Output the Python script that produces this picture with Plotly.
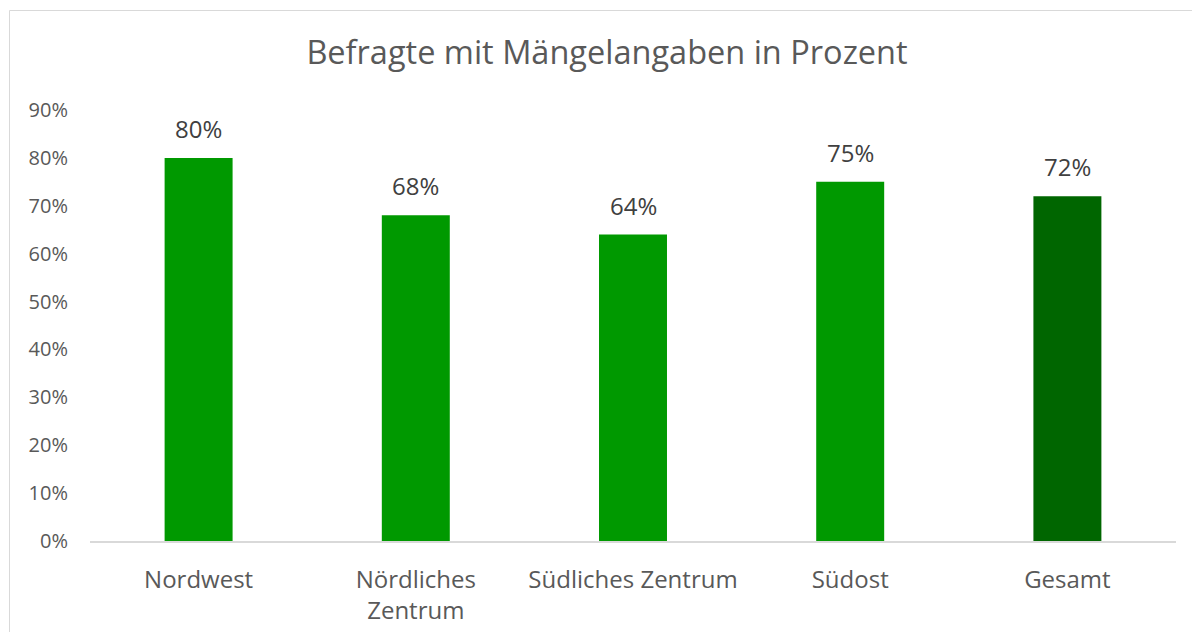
import plotly.graph_objects as go

categories = ["Nordwest", "Nördliches<br>Zentrum", "Südliches Zentrum", "Südost", "Gesamt"]
values = [0.80, 0.68, 0.64, 0.75, 0.72]
labels = ["80%", "68%", "64%", "75%", "72%"]
colors = ["#009900", "#009900", "#009900", "#009900", "#006600"]
tick_vals = [0, 0.1, 0.2, 0.3, 0.4, 0.5, 0.6, 0.7, 0.8, 0.9]
tick_text = ["0%", "10%", "20%", "30%", "40%", "50%", "60%", "70%", "80%", "90%"]

FONT = "Open Sans"
OFF = 8  # page body margin
W, H = 1184, 624
L, T = 90 - OFF, 110 - OFF
R = W + OFF - 1176
B = H + OFF - 541
pw, ph = W - L - R, H - T - B

def px(x): return (x - OFF - L) / pw
def py(y): return (H - B - (y - OFF)) / ph

fig = go.Figure(go.Bar(
    x=categories, y=values, marker=dict(color=colors, line=dict(width=0)),
    hoverinfo="x+y",
))

for c, v, t in zip(categories, values, labels):
    fig.add_annotation(x=c, y=v, text=t, showarrow=False, yanchor="bottom", yshift=11,
                       font=dict(family=FONT, size=24, color="#404040"))

fig.update_layout(
    width=W, height=H, margin=dict(l=L, r=R, t=T, b=B),
    paper_bgcolor="white", plot_bgcolor="white",
    bargap=0.687, showlegend=False,
    title=dict(text="Befragte mit Mängelangaben in Prozent", x=px(607), xanchor="center",
               xref="paper", y=1 - (53 - OFF) / H, yanchor="middle",
               font=dict(family=FONT, size=32.5, color="#595959")),
    xaxis=dict(showgrid=False, showline=True, linecolor="#d9d9d9", linewidth=1.5,
               ticks="", tickfont=dict(family=FONT, size=24, color="#595959"),
               ticklabelstandoff=16, automargin=False),
    yaxis=dict(range=[0, 0.9], tickvals=tick_vals, ticktext=tick_text, showgrid=False,
               showline=False, zeroline=False, ticks="", automargin=False,
               tickfont=dict(family=FONT, size=20, color="#595959"),
               ticklabelstandoff=21),
    shapes=[dict(type="rect", xref="paper", yref="paper",
                 x0=px(9.5), x1=px(1215), y0=py(660), y1=py(10.5),
                 line=dict(color="#d9d9d9", width=1), fillcolor="rgba(0,0,0,0)", layer="below")],
)

fig.write_html("out.html")
